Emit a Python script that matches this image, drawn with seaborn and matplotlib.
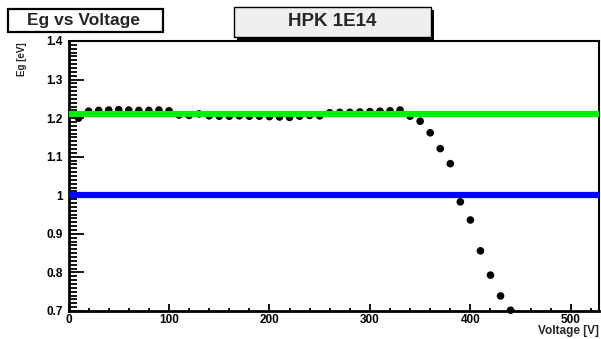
import numpy as np
import pandas as pd
import matplotlib
matplotlib.use("Agg")
import matplotlib.pyplot as plt
from matplotlib.patches import Rectangle
from matplotlib.ticker import MultipleLocator
import seaborn as sns

# Measured band-gap energy versus bias voltage
voltage = [10, 20, 30, 40, 50, 60, 70, 80, 90, 100,
           110, 120, 130, 140, 150, 160, 170, 180, 190, 200,
           210, 220, 230, 240, 250, 260, 270, 280, 290, 300,
           310, 320, 330, 340, 350, 360, 370, 380, 390, 400,
           410, 420, 430, 440]
eg = [1.200, 1.218, 1.220, 1.221, 1.222, 1.221, 1.220, 1.220, 1.221, 1.219,
      1.208, 1.207, 1.211, 1.206, 1.205, 1.205, 1.206, 1.205, 1.205, 1.204,
      1.203, 1.202, 1.205, 1.207, 1.206, 1.214, 1.215, 1.215, 1.216, 1.217,
      1.218, 1.219, 1.221, 1.205, 1.192, 1.162, 1.121, 1.082, 0.983, 0.936,
      0.856, 0.793, 0.739, 0.702]

# Reference levels
eg_fit = 1.212
eg_ref = 1.0

x_range = [0, 528]
y_range = [0.7, 1.4]

main_title = "HPK 1E14"
plot_title = "Eg vs Voltage"
x_title = "Voltage [V]"
y_title = "Eg [eV]"

df = pd.DataFrame({"Voltage": voltage, "Eg": eg})

sns.set_theme(style="ticks")
plt.rcParams["font.family"] = ["Liberation Sans", "DejaVu Sans"]
plt.rcParams["font.weight"] = "bold"

W, H = 601, 339
fig = plt.figure(figsize=(W / 100, H / 100), dpi=100)
fig.patch.set_facecolor("white")


def fx(px):
    return px / W


def fy(py):
    return 1 - py / H


left, right, top, bottom = 68.5, 599, 41, 311
ax = fig.add_axes([fx(left), fy(bottom), fx(right - left), (bottom - top) / H])
ax.set_facecolor("white")

sns.scatterplot(data=df, x="Voltage", y="Eg", ax=ax, color="black",
                s=30, edgecolor="none", zorder=3, legend=False, clip_on=False)
ax.axhline(eg_fit, color="#00ee00", lw=4.5, zorder=4)
ax.axhline(eg_ref, color="#0000ff", lw=4.5, zorder=4)

ax.set_xlim(*x_range)
ax.set_ylim(*y_range)
ax.set_xlabel("")
ax.set_ylabel("")

ax.xaxis.set_major_locator(MultipleLocator(100))
ax.xaxis.set_minor_locator(MultipleLocator(20))
ax.yaxis.set_major_locator(MultipleLocator(0.1))
ax.yaxis.set_minor_locator(MultipleLocator(0.01))
ax.yaxis.set_major_formatter(matplotlib.ticker.FuncFormatter(
    lambda v, p: ("%g" % round(v, 2))))
ax.xaxis.set_major_formatter(matplotlib.ticker.FuncFormatter(
    lambda v, p: ("%d" % v)))

ax.tick_params(axis="y", which="major", direction="in", length=11, width=1.3,
               labelsize=8.5, pad=4, color="black", labelcolor="black")
ax.tick_params(axis="y", which="minor", direction="in", length=6, width=1.3,
               color="black")
ax.tick_params(axis="x", which="major", direction="in", length=5, width=1.3,
               labelsize=8.5, pad=2.5, color="black", labelcolor="black")
ax.tick_params(axis="x", which="minor", direction="in", length=2.5, width=1.3,
               color="black")
for lab in ax.get_xticklabels() + ax.get_yticklabels():
    lab.set_fontweight("bold")

for side in ["left", "bottom"]:
    ax.spines[side].set_linewidth(2.0)
    ax.spines[side].set_color("black")
for side in ["top", "right"]:
    ax.spines[side].set_visible(True)
    ax.spines[side].set_linewidth(1.5)
    ax.spines[side].set_color("black")

# Axis titles
fig.text(fx(599), fy(334), x_title, ha="right", va="baseline",
         fontsize=8.5, fontweight="bold")
fig.text(fx(22), fy(42), y_title, ha="center", va="top", rotation=90,
         fontsize=7, fontweight="bold")

# Title box on the upper left
fig.patches.append(Rectangle((fx(8), fy(32)), fx(155), (32 - 9) / H,
                             transform=fig.transFigure, facecolor="white",
                             edgecolor="black", lw=1.6, zorder=5))
fig.text(fx(84), fy(20), plot_title, ha="center", va="center",
         fontsize=12.5, fontweight="bold", zorder=6)

# Shadowed header box
bx0, by0, bx1, by1 = 234, 7, 431, 37
fig.patches.append(Rectangle((fx(bx0 + 3), fy(by1 + 3)), fx(bx1 - bx0),
                             (by1 - by0) / H, transform=fig.transFigure,
                             facecolor="black", edgecolor="none", zorder=5))
fig.patches.append(Rectangle((fx(bx0), fy(by1)), fx(bx1 - bx0),
                             (by1 - by0) / H, transform=fig.transFigure,
                             facecolor="#efefef", edgecolor="black", lw=1.0,
                             zorder=6))
fig.text(fx((bx0 + bx1) / 2), fy(22), main_title, ha="center", va="center",
         fontsize=13.5, fontweight="bold", zorder=7)

fig.savefig("out.png", dpi=100)
